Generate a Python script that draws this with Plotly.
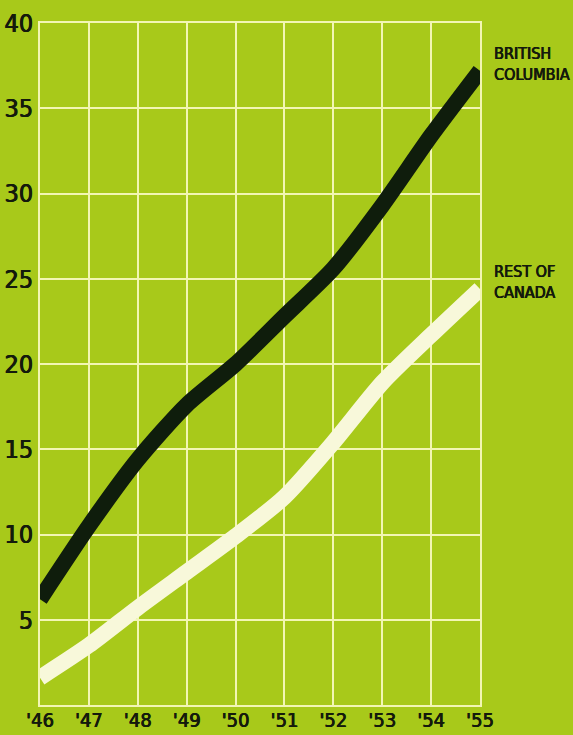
import plotly.graph_objects as go

years = [1946, 1947, 1948, 1949, 1950, 1951, 1952, 1953, 1954, 1955]
year_labels = ["'46", "'47", "'48", "'49", "'50", "'51", "'52", "'53", "'54", "'55"]
british_columbia = [6.2, 10.5, 14.4, 17.6, 20.0, 22.8, 25.6, 29.3, 33.4, 37.2]
rest_of_canada = [1.6, 3.5, 5.7, 7.8, 9.9, 12.2, 15.4, 18.9, 21.7, 24.4]
y_ticks = [5, 10, 15, 20, 25, 30, 35, 40]
y_labels = ["5", "10", "15", "20", "25", "30", "35", "40"]
series_names = ["BRITISH<br>COLUMBIA", "REST OF<br>CANADA"]

BG = "#a8c91a"
GRID = "#f2f6b4"
INK = "#141a0c"
FONT = "DejaVu Sans Condensed, sans-serif"
BOLDEN = "0.5px 0 0 #141a0c, -0.3px 0 0 #141a0c"

fig = go.Figure()
fig.add_trace(go.Scatter(
    x=years, y=rest_of_canada, mode="lines",
    line=dict(color="#f8f8da", width=16, shape="spline", smoothing=0.7),
    hoverinfo="skip", showlegend=False))
fig.add_trace(go.Scatter(
    x=years, y=british_columbia, mode="lines",
    line=dict(color="#0f1d0c", width=16, shape="spline", smoothing=0.7),
    hoverinfo="skip", showlegend=False))

for name, vals in zip(series_names, [british_columbia, rest_of_canada]):
    fig.add_annotation(
        x=years[-1], y=vals[-1], xref="x", yref="y", text=name,
        showarrow=False, xanchor="left", yanchor="middle", align="left",
        xshift=12, yshift=7,
        font=dict(family=FONT, size=16, color=INK, shadow=BOLDEN))

fig.update_xaxes(
    range=[years[0], years[-1]], tickvals=years, ticktext=year_labels,
    showgrid=True, gridcolor=GRID, gridwidth=2,
    showline=True, mirror=True, linecolor=GRID, linewidth=2,
    zeroline=False, ticks="", ticklabelstandoff=-4, automargin=False,
    tickfont=dict(family=FONT, size=20, color=INK, shadow=BOLDEN))
fig.update_yaxes(
    range=[0, 40], tickvals=y_ticks, ticktext=y_labels,
    showgrid=True, gridcolor=GRID, gridwidth=2,
    showline=True, mirror=True, linecolor=GRID, linewidth=2,
    zeroline=False, ticks="", ticklabelstandoff=0, automargin=False,
    tickfont=dict(family=FONT, size=25, color=INK, shadow=BOLDEN))

fig.update_layout(
    width=573, height=735,
    margin=dict(l=40, r=93, t=23, b=30),
    paper_bgcolor=BG, plot_bgcolor=BG,
)

fig.write_html("out.html")
